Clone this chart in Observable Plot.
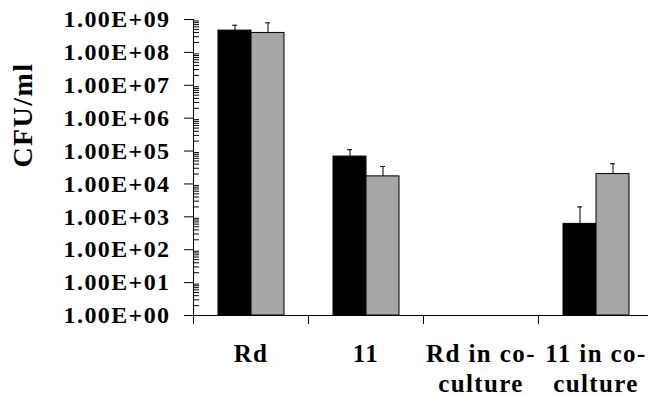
<!DOCTYPE html>
<html><head><meta charset="utf-8">
<script src="https://cdn.jsdelivr.net/npm/d3@7"></script>
<script src="https://cdn.jsdelivr.net/npm/@observablehq/plot@0.6"></script>
<style>
html,body{margin:0;padding:0;background:#fff;overflow:hidden}
#chart svg text{letter-spacing:1.4px}
</style></head><body><div id="chart"></div>
<script>
const categories = ["Rd", "11", "Rd in co-culture", "11 in co-culture"];
const categoryLabels = ["Rd", "11", "Rd in co-\nculture", "11 in co-\nculture"];
const seriesNames = ["Series 1", "Series 2"];
const seriesColors = ["#000000", "#a6a6a6"];
const series1Values = [4.6e8, 6.8e4, null, 6.1e2];
const series2Values = [3.9e8, 1.7e4, null, 2.0e4];
const series1Upper = [6.7e8, 1.1e5, null, 2.0e3];
const series2Upper = [7.9e8, 3.4e4, null, 4.1e4];
const yTicks = [1e0, 1e1, 1e2, 1e3, 1e4, 1e5, 1e6, 1e7, 1e8, 1e9];
const yTickLabels = ["1.00E+00", "1.00E+01", "1.00E+02", "1.00E+03", "1.00E+04",
  "1.00E+05", "1.00E+06", "1.00E+07", "1.00E+08", "1.00E+09"];
const yMinorTicks = yTicks.slice(0, -1).flatMap(p => d3.range(2, 10).map(m => m * p));

const rows = [];
categories.forEach((c, i) => {
  rows.push({category: c, series: seriesNames[0], value: series1Values[i], upper: series1Upper[i]});
  rows.push({category: c, series: seriesNames[1], value: series2Values[i], upper: series2Upper[i]});
});

const chart = Plot.plot({
  width: 648, height: 396,
  marginTop: 19, marginBottom: 81, marginLeft: 193, marginRight: -5,
  style: {fontFamily: "'Liberation Serif', 'Times New Roman', serif", fontWeight: "bold", color: "black", background: "white"},
  fx: {domain: categories, padding: 0, axis: null, label: null},
  x: {domain: seriesNames, paddingInner: 0, paddingOuter: 0.742, axis: null, label: null},
  y: {type: "log", domain: [1, 1e9], axis: null, label: null},
  color: {domain: seriesNames, range: seriesColors},
  marks: [
    Plot.barY(rows, {fx: "category", x: "series", y1: 1, y2: "value", fill: "series", stroke: "black", strokeWidth: 1}),
    Plot.ruleX(rows, {fx: "category", x: "series", y1: "value", y2: "upper", stroke: "black", strokeWidth: 1}),
    Plot.tickY(rows, {fx: "category", x: "series", y: "upper", stroke: "black", strokeWidth: 1, insetLeft: 14, insetRight: 14}),
    Plot.ruleY([1], {stroke: "black", strokeWidth: 1}),
    Plot.frame({anchor: "left", facetAnchor: "left", stroke: "black", strokeWidth: 1}),
    Plot.axisY(yTicks, {anchor: "left", tickSize: 9, tickPadding: 14, fontSize: 24,
      tickFormat: d => yTickLabels[yTicks.indexOf(d)], label: null}),
    Plot.axisY(yMinorTicks, {anchor: "left", tickSize: -6, tickFormat: () => "", label: null}),
    Plot.axisFx({anchor: "bottom", tickSize: 9, dx: -57.5, tickFormat: () => "", label: null}),
    Plot.axisFx({anchor: "bottom", tickSize: 0, tickPadding: 25, fontSize: 25, lineHeight: 1.2,
      tickFormat: d => categoryLabels[categories.indexOf(d)], label: null}),
    Plot.text(["CFU/ml"], {text: d => d, frameAnchor: "left", facetAnchor: "left", rotate: -90, dx: -170.5, fontSize: 28})
  ]
});
document.getElementById("chart").appendChild(chart);
</script></body></html>
